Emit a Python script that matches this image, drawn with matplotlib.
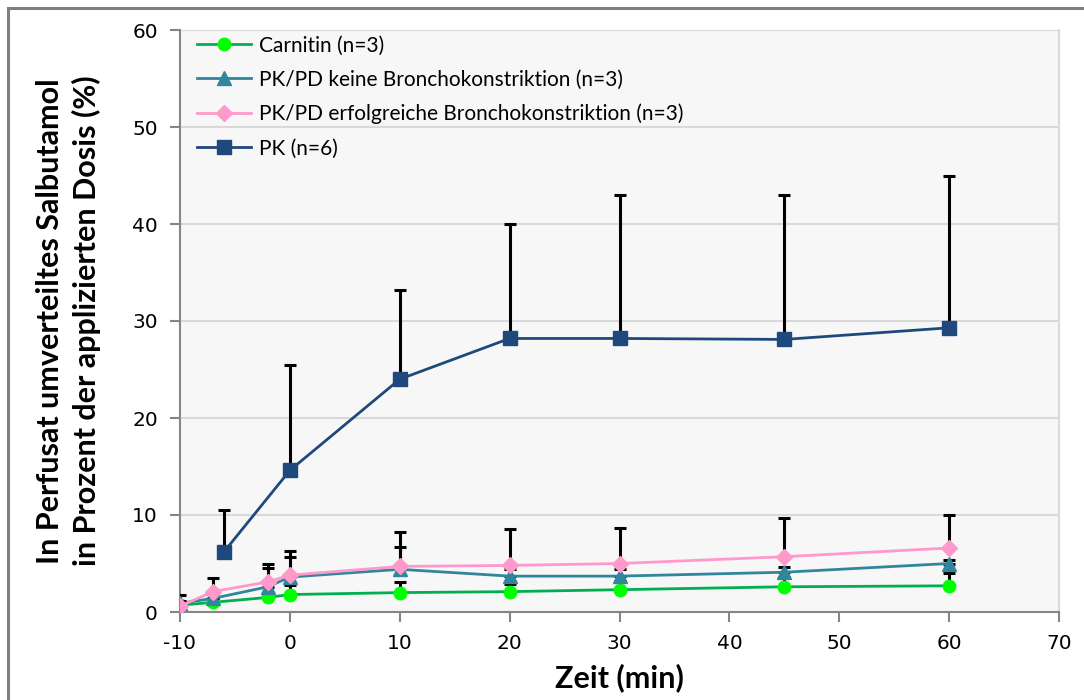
import matplotlib.pyplot as plt
from matplotlib.patches import Rectangle

plt.rcParams['axes.unicode_minus'] = False

# time points (min) and mean values (% of applied dose)
zeit = [-10, -7, -2, 0, 10, 20, 30, 45, 60]
zeit_pk = [-6, 0, 10, 20, 30, 45, 60]

carnitin = [0.7, 1.0, 1.5, 1.8, 2.0, 2.1, 2.3, 2.6, 2.7]
carnitin_sd = [0.2, 0.3, 0.5, 1.0, 1.1, 0.8, 0.9, 1.0, 1.3]

keine = [0.9, 1.4, 2.6, 3.6, 4.4, 3.7, 3.7, 4.1, 5.0]
keine_sd = [0.85, 0.5, 1.9, 2.1, 2.3, 0.7, 0.7, 0.5, 0.4]

erfolgreich = [0.6, 2.1, 3.1, 3.8, 4.7, 4.8, 5.0, 5.7, 6.6]
erfolgreich_sd = [0.5, 1.4, 1.9, 2.5, 3.5, 3.8, 3.7, 4.0, 3.4]

pk = [6.2, 14.6, 24.0, 28.2, 28.2, 28.1, 29.3]
pk_sd = [4.3, 10.9, 9.2, 11.8, 14.8, 14.9, 15.7]

labels = ['Carnitin (n=3)', 'PK/PD keine Bronchokonstriktion (n=3)',
          'PK/PD erfolgreiche Bronchokonstriktion (n=3)', 'PK (n=6)']

fig = plt.figure(figsize=(10.84, 7), dpi=100)
fig.patches.append(Rectangle((8 / 1084, -0.1), 1.2, 1 - 8 / 700 + 0.1,
                             transform=fig.transFigure, fill=False,
                             edgecolor='#7f7f7f', linewidth=2.2))
ax = fig.add_axes([180 / 1084, 1 - 612 / 700, 879 / 1084, 582 / 700])
ax.set_facecolor('#f7f7f7')

series = [
    (zeit, carnitin, carnitin_sd, '#00b050', 'o', '#00ff00', 9),
    (zeit, keine, keine_sd, '#31859c', '^', '#31859c', 10),
    (zeit, erfolgreich, erfolgreich_sd, '#ff99cc', 'D', '#ff99cc', 8),
    (zeit_pk, pk, pk_sd, '#1f497d', 's', '#1f497d', 10),
]
handles = []
for i, (x, y, sd, col, mk, fc, ms) in enumerate(series):
    ax.errorbar(x, y, yerr=[[0] * len(sd), sd], fmt='none', ecolor='black',
                elinewidth=2.2, capsize=4.5, capthick=2.2, zorder=2 + i * 2)
    h, = ax.plot(x, y, color=col, lw=2, marker=mk, ms=ms, mfc=fc, mec=fc,
                 zorder=3 + i * 2)
    handles.append(h)

ax.set_xlim(-10, 70)
ax.set_ylim(0, 60)
ax.set_xticks(range(-10, 71, 10))
ax.set_yticks(range(0, 61, 10))
ax.grid(axis='y', color='#d9d9d9', lw=1.5)
ax.set_axisbelow(True)
ax.spines['top'].set_visible(False)
ax.spines['right'].set_color('#d9d9d9')
ax.spines['right'].set_linewidth(1.5)
for s in ['left', 'bottom']:
    ax.spines[s].set_color('#868686')
    ax.spines[s].set_linewidth(1.5)
ax.tick_params(length=7, width=1.5, color='#868686', labelsize=14.5, pad=9)

ax.set_xlabel('Zeit (min)', fontfamily='Lato', fontweight='bold', fontsize=22,
              labelpad=7)
ax.set_ylabel('In Perfusat umverteiltes Salbutamol\nin Prozent der applizierten Dosis (%)',
              fontfamily='Lato', fontweight='bold', fontsize=22, labelpad=22,
              linespacing=1.35)

ax.legend(handles, labels, loc='upper left', frameon=False,
          prop={'family': 'Lato', 'size': 15}, handlelength=2.6,
          handletextpad=0.4, labelspacing=0.68, borderaxespad=0.2,
          bbox_to_anchor=(0.005, 1.012))

fig.savefig('out.png', dpi=100)
